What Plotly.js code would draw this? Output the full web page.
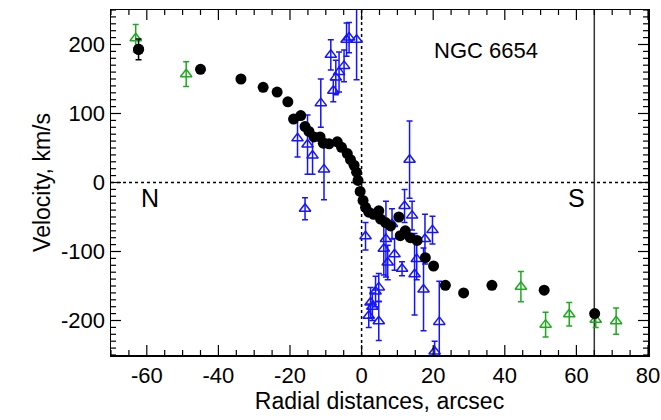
<!DOCTYPE html>
<html>
<head>
<meta charset="utf-8">
<script src="https://cdn.plot.ly/plotly-3.0.1.min.js"></script>
<style>html,body{margin:0;padding:0;background:#fff;}#chart{width:661px;height:420px;}</style>
</head>
<body>
<div id="chart"></div>
<script>
// Black circles (main rotation curve)
const blackX = [-62.3,-45,-33.7,-27.5,-23.6,-20.6,-19,-17,-15.8,-14.7,-13.3,-11.6,-10.7,-9.1,-6.8,-5.6,-4.0,-3.1,-2.1,-1.4,-1.0,-0.4,0.4,1.1,2.0,3.4,4.8,5.3,6.7,8.1,10.4,10.8,12.2,13.6,15.5,17.8,20.1,23.4,28.5,36.4,51,65.1];
const blackY = [193,164,150,138,131,117,92,97,81,74,66,66,57,56,59,51,42,33,25,15,3,-13,-26,-36,-43,-46,-41,-53,-58,-63,-50,-77,-70,-80,-84,-109,-121,-149,-160,-149,-156,-190];
const blackErrX = [-62.3];
const blackErrY = [193];
const blackErrV = [15];

// Blue triangles
const blueX = [-17.9,-15.1,-13.7,-11.4,-10.5,-15.8,-8.6,-7.9,-7.2,-6.3,-4.9,-4.2,-3.5,-1.4,
  1.1,2.0,2.5,3.0,3.9,4.8,4.8,6.2,6.8,7.3,8.5,9.2,11.3,12.0,13.4,14.1,14.8,15.4,17.3,17.7,19.8,20.4,21.7];
const blueY = [64,55,39,115,19,-38,185,133,152,160,169,207,210,207,
  -78,-193,-174,-180,-158,-152,-201,-96,-82,-116,-60,-104,-125,-34,33,-48,-133,-111,-155,-82,-69,-245,-202];
const blueErr = [27,43,27,35,44,16,22,16,25,29,23,24,22,58,
  20,17,22,20,22,20,28,38,55,25,22,23,10,24,56,21,59,30,60,36,20,15,59];

// Green triangles
const greenX = [-63.1,-49,44.5,51.4,58,65.4,71.1];
const greenY = [209,157,-151,-206,-191,-199,-201];
const greenErr = [20,18,22,18,17,11,19];

// Axis ranges and tick steps
const xRange = [-70, 80];
const yRange = [-250, 250];
const xMajorStep = 20, xMinorStep = 5;
const yMajorStep = 100, yMinorStep = 10;

// Negative tick labels drawn with a plain hyphen, as in the reference
const negLabels = ['60','40','20','200','100'];
const hyphenAlias = {};
negLabels.forEach(function (v) { hyphenAlias['\u2212' + v] = '-' + v; });

const blue = 'rgb(20,20,255)';
const green = 'rgb(30,170,30)';
const fam = 'Liberation Sans, Arial, Helvetica, sans-serif';
const tickFont = {family: fam, size: 22, color: '#000'};
const titleFont = {family: fam, size: 23, color: '#000'};

const traces = [
  {x: blueX, y: blueY, type: 'scatter', mode: 'markers',
   marker: {symbol: 'triangle-up-open', size: 10, color: blue, line: {width: 1.5, color: blue}},
   error_y: {type: 'data', array: blueErr, visible: true, color: blue, thickness: 1.5, width: 3}},
  {x: greenX, y: greenY, type: 'scatter', mode: 'markers',
   marker: {symbol: 'triangle-up-open', size: 10, color: green, line: {width: 1.5, color: green}},
   error_y: {type: 'data', array: greenErr, visible: true, color: green, thickness: 1.5, width: 3}},
  {x: blackErrX, y: blackErrY, type: 'scatter', mode: 'markers',
   marker: {size: 11, color: '#000'},
   error_y: {type: 'data', array: blackErrV, visible: true, color: '#000', thickness: 1.5, width: 3}},
  {x: blackX, y: blackY, type: 'scatter', mode: 'markers',
   marker: {symbol: 'circle', size: 11, color: '#000'}}
];

// Tick marks on all four sides (inside), as axis-referenced shapes
const tickShapes = [];
const xMajLen = 0.029, xMinLen = 0.0145;   // fraction of plot height
const yMajLen = 0.0186, yMinLen = 0.0093;  // fraction of plot width
for (let v = Math.ceil(xRange[0] / xMinorStep) * xMinorStep; v <= xRange[1]; v += xMinorStep) {
  const len = (v % xMajorStep === 0) ? xMajLen : xMinLen;
  tickShapes.push({type: 'line', xref: 'x', yref: 'y domain', x0: v, x1: v, y0: 0, y1: len, line: {color: '#000', width: 1.2}});
  tickShapes.push({type: 'line', xref: 'x', yref: 'y domain', x0: v, x1: v, y0: 1, y1: 1 - len, line: {color: '#000', width: 1.2}});
}
for (let v = Math.ceil(yRange[0] / yMinorStep) * yMinorStep; v <= yRange[1]; v += yMinorStep) {
  const len = (v % yMajorStep === 0) ? yMajLen : yMinLen;
  tickShapes.push({type: 'line', xref: 'x domain', yref: 'y', x0: 0, x1: len, y0: v, y1: v, line: {color: '#000', width: 1.2}});
  tickShapes.push({type: 'line', xref: 'x domain', yref: 'y', x0: 1, x1: 1 - len, y0: v, y1: v, line: {color: '#000', width: 1.2}});
}

const layout = {
  width: 661, height: 420,
  margin: {l: 111, r: 13, t: 10, b: 65},
  paper_bgcolor: '#fff', plot_bgcolor: '#fff',
  showlegend: false,
  font: tickFont,
  xaxis: {
    range: xRange, tickmode: 'linear', tick0: 0, dtick: xMajorStep, labelalias: hyphenAlias,
    showgrid: false, zeroline: false, showline: true, linecolor: '#000', linewidth: 1.5, mirror: true,
    ticks: '', tickfont: tickFont,
    title: {text: 'Radial distances, arcsec', font: titleFont, standoff: 2}
  },
  yaxis: {
    range: yRange, tickmode: 'linear', tick0: 0, dtick: yMajorStep, labelalias: hyphenAlias,
    showgrid: false, zeroline: false, showline: true, linecolor: '#000', linewidth: 1.5, mirror: true,
    ticks: '', tickfont: tickFont,
    title: {text: 'Velocity, km/s', font: titleFont, standoff: 4}
  },
  shapes: [
    {type: 'line', xref: 'x', yref: 'y', x0: 0, x1: 0, y0: yRange[0], y1: yRange[1], line: {color: '#000', width: 1.5, dash: 'dot'}, layer: 'below'},
    {type: 'line', xref: 'x', yref: 'y', x0: xRange[0], x1: xRange[1], y0: 0, y1: 0, line: {color: '#000', width: 1.5, dash: 'dot'}, layer: 'below'},
    {type: 'line', xref: 'x', yref: 'y', x0: 65, x1: 65, y0: yRange[0], y1: yRange[1], line: {color: '#333', width: 1.5}, layer: 'below'}
  ].concat(tickShapes),
  annotations: [
    {text: 'NGC 6654', x: 34.8, y: 192, xref: 'x', yref: 'y', showarrow: false, font: {family: fam, size: 22, color: '#000'}},
    {text: 'N', x: -59.2, y: -22, xref: 'x', yref: 'y', showarrow: false, font: {family: fam, size: 25, color: '#000'}},
    {text: 'S', x: 60, y: -22, xref: 'x', yref: 'y', showarrow: false, font: {family: fam, size: 25, color: '#000'}}
  ]
};

Plotly.newPlot('chart', traces, layout, {displayModeBar: false, staticPlot: true});
</script>
</body>
</html>
